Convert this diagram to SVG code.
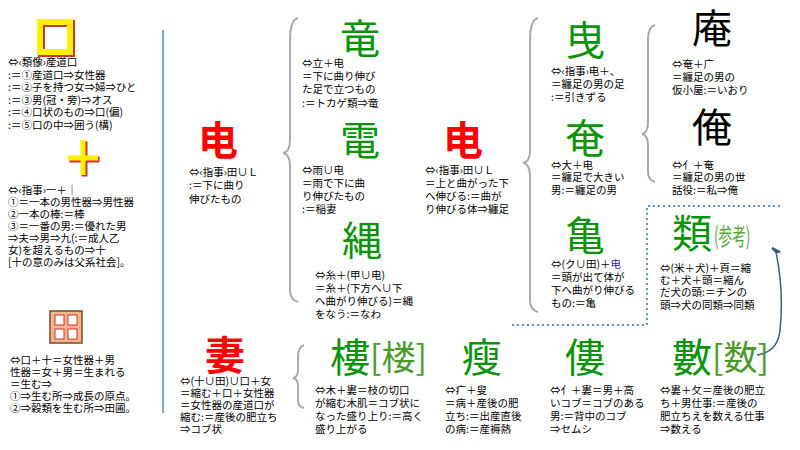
<svg xmlns="http://www.w3.org/2000/svg" width="800" height="450" viewBox="0 0 800 450">
<style>
text{font-family:"Noto Sans CJK JP","Noto Sans CJK SC",sans-serif}
.t{font-size:10.5px;fill:#000}
.g{font-size:40px;fill:#0a940a}
.r{font-size:40px;fill:#f00;font-weight:bold}
.k{font-size:40px;fill:#000}
.br{fill:none;stroke:#aaa;stroke-width:2}
</style>
<rect width="800" height="450" fill="#fff"/>
<g id="connectors">
<line x1="163" y1="30" x2="163" y2="413" stroke="#7aa6d8" stroke-width="2"/>
<path class="br" d="M298 18 Q290 20 290 40 L290 140 Q290 152 283 153 Q290 154 290 166 L290 290 Q290 300 298 302"/>
<path class="br" d="M538 18 Q530 20 530 40 L530 150 Q530 162 523 163 Q530 164 530 176 L530 300 Q530 310 538 312"/>
<path class="br" d="M655 25 Q648 27 648 40 L648 122 Q648 133 642 134 Q648 135 648 146 L648 172 Q648 180 655 182"/>
<path class="br" d="M304 345 Q298 347 298 357 L298 370 Q298 377 293 378 Q298 379 298 386 L298 400 Q298 407 304 408"/>
<path d="M512 325 L647 325 L647 206 L782 206" fill="none" stroke="#3366dd" stroke-width="1.5" stroke-dasharray="2 3"/>
<path d="M757 355 Q778 352 780 330 Q784 290 776 252" fill="none" stroke="#3a5a8a" stroke-width="1.5"/>
<path d="M772 248 L776 252 L780 252 Z" fill="#3a5a8a" stroke="#3a5a8a" stroke-width="2"/>
</g>
<g id="n-kuchi">
<rect x="40" y="22" width="30" height="30" fill="none" stroke="#c33" stroke-width="7" transform="translate(1.5,1.5)"/>
<rect x="40" y="22" width="30" height="30" fill="none" stroke="#ffef00" stroke-width="6"/>
<text class="t" x="8" y="66">⇔‹類像›産道口</text>
<text class="t" x="8" y="78.5">:＝①産道口⇒女性器</text>
<text class="t" x="8" y="91">:＝②子を持つ女⇒婦⇒ひと</text>
<text class="t" x="8" y="103.5">:＝③男(冠・旁)⇒オス</text>
<text class="t" x="8" y="116">:＝④口状のもの⇒口(偏)</text>
<text class="t" x="8" y="128.5">:＝⑤口の中⇒囲う(構)</text>
</g>
<g id="n-juu">
<path d="M68 158 H98 M83 140 V175" stroke="#c33" stroke-width="6" transform="translate(1.5,1.5)"/>
<path d="M68 158 H98 M83 140 V175" stroke="#ffef00" stroke-width="5"/>
<text class="t" x="8" y="194">⇔‹指事›一＋｜</text>
<text class="t" x="8" y="206">①＝一本の男性器⇒男性器</text>
<text class="t" x="8" y="218">②一本の棒:＝棒</text>
<text class="t" x="8" y="230">③＝一番の男:＝優れた男</text>
<text class="t" x="8" y="242">⇒夫⇒男⇒九(:＝成人乙</text>
<text class="t" x="8" y="254">女)を超えるもの⇒十</text>
<text class="t" x="8" y="266">[十の意のみは父系社会]。</text>
</g>
<g id="n-ta">
<rect x="50" y="311" width="32" height="32" fill="#f5b58a" stroke="#7a4a2a" stroke-width="1.5"/>
<rect x="55" y="315" width="9" height="10" fill="#fff" stroke="#c33"/>
<rect x="68" y="315" width="9" height="10" fill="#fff" stroke="#c33"/>
<rect x="55" y="329" width="9" height="10" fill="#fff" stroke="#c33"/>
<rect x="68" y="329" width="9" height="10" fill="#fff" stroke="#c33"/>
<text class="t" x="10" y="364">⇔口＋十＝女性器＋男</text>
<text class="t" x="10" y="376">性器＝女＋男＝生まれる</text>
<text class="t" x="10" y="388">＝生む⇒</text>
<text class="t" x="10" y="400">①⇒生む所⇒成長の原点。</text>
<text class="t" x="10" y="412">②⇒穀類を生む所⇒田圃。</text>
</g>
<g id="n-shin1">
<text class="r" x="198" y="155">电</text>
<text class="t" x="189" y="176">⇔‹指事›田∪Ｌ</text>
<text class="t" x="189" y="189">:＝下に曲り</text>
<text class="t" x="189" y="203">伸びたもの</text>
</g>
<g id="n-ryuu">
<text class="g" x="340" y="53">竜</text>
<text class="t" x="302" y="67">⇔立＋电</text>
<text class="t" x="302" y="80">＝下に曲り伸び</text>
<text class="t" x="302" y="93">た足で立つもの</text>
<text class="t" x="302" y="107">:＝トカゲ類⇒竜</text>
</g>
<g id="n-den">
<text class="g" x="340" y="155">電</text>
<text class="t" x="302" y="174">⇔雨∪电</text>
<text class="t" x="302" y="187">＝雨で下に曲</text>
<text class="t" x="302" y="200">り伸びたもの</text>
<text class="t" x="302" y="213">:＝稲妻</text>
</g>
<g id="n-jou">
<text class="g" x="342" y="255">縄</text>
<text class="t" x="315" y="279">⇔糸＋(甲∪电)</text>
<text class="t" x="315" y="292">＝糸＋(下方へ∪下</text>
<text class="t" x="315" y="305">へ曲がり伸びる)＝縄</text>
<text class="t" x="315" y="318">をなう:＝なわ</text>
</g>
<g id="n-shin2">
<text class="r" x="443" y="155">电</text>
<text class="t" x="425" y="174">⇔‹指事›田∪Ｌ</text>
<text class="t" x="425" y="187">＝上と曲がった下</text>
<text class="t" x="425" y="200">へ伸びる:＝曲が</text>
<text class="t" x="425" y="213">り伸びる体⇒纏足</text>
</g>
<g id="n-ei">
<text class="g" x="565" y="55">曳</text>
<text class="t" x="551" y="75">⇔‹指事›电＋、</text>
<text class="t" x="551" y="88">＝纏足の男の足</text>
<text class="t" x="551" y="101">:＝引きずる</text>
</g>
<g id="n-en">
<text class="g" x="565" y="153">奄</text>
<text class="t" x="551" y="169">⇔大＋电</text>
<text class="t" x="551" y="181">＝纏足で大きい</text>
<text class="t" x="551" y="194">男:＝纏足の男</text>
</g>
<g id="n-kame">
<text class="g" x="565" y="250">亀</text>
<text class="t" x="551" y="268">⇔(ク∪田)＋<tspan fill="#22c">电</tspan></text>
<text class="t" x="551" y="281">＝頭が出て体が</text>
<text class="t" x="551" y="294">下へ曲がり伸びる</text>
<text class="t" x="551" y="307">もの:＝亀</text>
</g>
<g id="n-an">
<text class="k" x="692" y="43">庵</text>
<text class="t" x="672" y="68">⇔奄＋广</text>
<text class="t" x="672" y="81">＝纏足の男の</text>
<text class="t" x="672" y="94">仮小屋:＝いおり</text>
</g>
<g id="n-ore">
<text class="k" x="692" y="142">俺</text>
<text class="t" x="672" y="169">⇔亻＋奄</text>
<text class="t" x="672" y="181">＝纏足の男の世</text>
<text class="t" x="672" y="194">話役:＝私⇒俺</text>
</g>
<g id="n-rui">
<text class="g" x="672" y="248">類</text>
<text x="0" y="0" font-size="22" fill="#5aaa3a" transform="translate(714,245) scale(0.62,1.1)">(参考)</text>
<text class="t" x="660" y="272">⇔(米＋犬)＋頁＝縮</text>
<text class="t" x="660" y="284">む＋犬＋頭＝縮ん</text>
<text class="t" x="660" y="296">だ犬の頭:＝チンの</text>
<text class="t" x="660" y="309">頭⇒犬の同類⇒同類</text>
</g>
<g id="n-tsuma">
<text class="r" x="205" y="370">妻</text>
<text class="t" x="180" y="385">⇔(十∪田)∪口＋女</text>
<text class="t" x="180" y="397">＝縮む＋口＋女性器</text>
<text class="t" x="180" y="409">＝女性器の産道口が</text>
<text class="t" x="180" y="421">縮む:＝産後の肥立ち</text>
<text class="t" x="180" y="433">⇒コブ状</text>
</g>
<g id="n-rou">
<text class="g" x="330" y="372">樓</text>
<text x="370" y="370" font-size="34" fill="#4a9a2a">[楼]</text>
<text class="t" x="315" y="394">⇔木＋婁＝枝の切口</text>
<text class="t" x="315" y="407">が縮む木肌＝コブ状に</text>
<text class="t" x="315" y="420">なった盛り上り:＝高く</text>
<text class="t" x="315" y="433">盛り上がる</text>
</g>
<g id="n-sou">
<text class="g" x="462" y="372">瘦</text>
<text class="t" x="445" y="394">⇔疒＋叟</text>
<text class="t" x="445" y="407">＝病＋産後の肥</text>
<text class="t" x="445" y="420">立ち:＝出産直後</text>
<text class="t" x="445" y="433">の病:＝産褥熱</text>
</g>
<g id="n-ru">
<text class="g" x="565" y="372">僂</text>
<text class="t" x="550" y="394">⇔亻＋婁＝男＋高</text>
<text class="t" x="550" y="407">いコブ＝コブのある</text>
<text class="t" x="550" y="420">男:＝背中のコブ</text>
<text class="t" x="550" y="433">⇒セムシ</text>
</g>
<g id="n-suu">
<text class="g" x="672" y="372">數</text>
<text x="712" y="370" font-size="34" fill="#4a9a2a">[数]</text>
<text class="t" x="660" y="394">⇔婁＋攵＝産後の肥立</text>
<text class="t" x="660" y="407">ち＋男仕事:＝産後の</text>
<text class="t" x="660" y="420">肥立ちえを数える仕事</text>
<text class="t" x="660" y="433">⇒数える</text>
</g>
</svg>
